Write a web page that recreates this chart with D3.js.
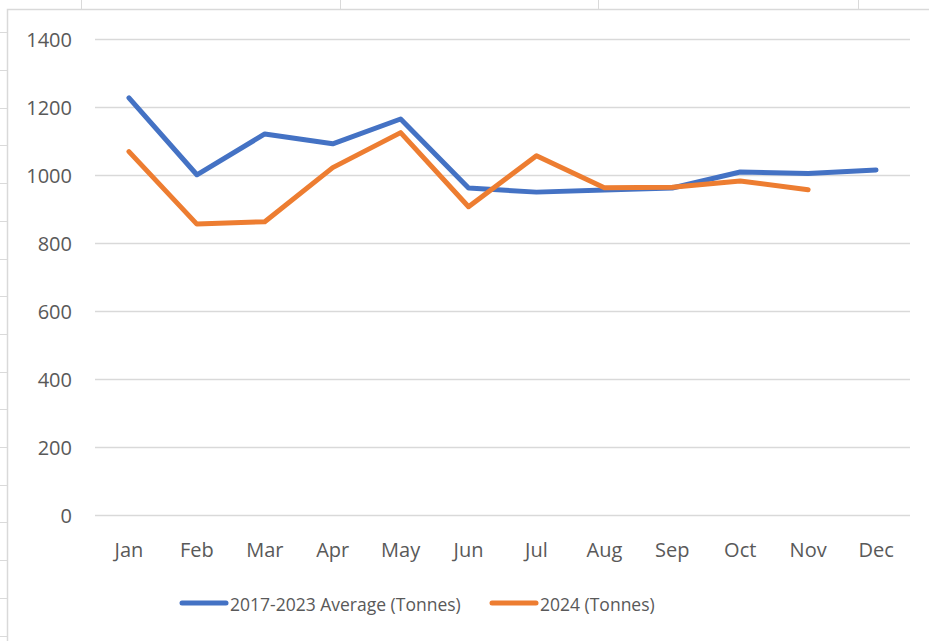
<!DOCTYPE html>
<html>
<head>
<meta charset="utf-8">
<script src="https://cdn.jsdelivr.net/npm/d3@7"></script>
<style>
body { margin: 0; background: #fff; }
svg { display: block; }
text { font-family: 'Open Sans', 'Noto Sans', sans-serif; fill: #595959; }
</style>
</head>
<body>
<svg id="chart" width="929" height="641"></svg>
<script>
// values
var months = ['Jan', 'Feb', 'Mar', 'Apr', 'May', 'Jun', 'Jul', 'Aug', 'Sep', 'Oct', 'Nov', 'Dec'];
var avgTonnes = [1228, 1002, 1122, 1093, 1166, 963, 951, 957, 963, 1010, 1006, 1016];
var tonnes2024 = [1070, 857, 864, 1023, 1126, 908, 1058, 964, 965, 984, 958];
var yTicks = [0, 200, 400, 600, 800, 1000, 1200, 1400];
var seriesNames = ['2017-2023 Average (Tonnes)', '2024 (Tonnes)'];
var seriesColors = ['#4472C4', '#ED7D31'];

var svg = d3.select('#chart');

// spreadsheet cells peeking out behind the chart object
var sheet = svg.append('g').attr('class', 'sheet');
[81, 340, 598, 858].forEach(function(cx) {
  sheet.append('line').attr('x1', cx + 0.5).attr('x2', cx + 0.5).attr('y1', 0).attr('y2', 9)
    .style('stroke', '#dadada');
});
for (var r = 0; r < 17; r++) {
  var ry = Math.round(32.3 + r * 37.7) + 0.5;
  sheet.append('line').attr('x1', 0).attr('x2', 7).attr('y1', ry).attr('y2', ry)
    .style('stroke', '#dadada');
}

// chart object frame
svg.append('rect')
  .attr('x', 7.5).attr('y', 9.5).attr('width', 940).attr('height', 660)
  .style('fill', '#fff').style('stroke', '#d9d9d9').style('stroke-width', 1.5);

var margin = {top: 39.4, left: 95, right: 910, bottom: 515.6};

var x = d3.scaleBand().domain(months).range([margin.left, margin.right]);
var y = d3.scaleLinear().domain([0, 1400]).range([margin.bottom, margin.top]);

var g = svg.append('g');

// gridlines
g.append('g').attr('class', 'grid')
  .selectAll('line')
  .data(yTicks)
  .enter()
  .append('line')
  .attr('x1', margin.left).attr('x2', margin.right)
  .attr('y1', function(d) { return y(d); })
  .attr('y2', function(d) { return y(d); })
  .style('stroke', '#d9d9d9')
  .style('stroke-width', 1.5);

// y labels
var yAxis = g.append('g')
  .attr('transform', 'translate(' + (margin.left - 23) + ',0)')
  .call(d3.axisLeft(y).tickValues(yTicks).tickSize(0).tickPadding(0).tickFormat(d3.format('d')));
yAxis.select('.domain').remove();
yAxis.selectAll('text')
  .style('font-size', '20px')
  .attr('fill', '#595959')
  .attr('dy', '0.36em');

// x labels
var xAxis = g.append('g')
  .attr('transform', 'translate(0,' + margin.bottom + ')')
  .call(d3.axisBottom(x).tickSize(0).tickPadding(0));
xAxis.select('.domain').remove();
xAxis.selectAll('text')
  .style('font-size', '20px')
  .attr('fill', '#595959')
  .attr('y', 41)
  .attr('dy', 0);

var line = d3.line()
  .x(function(d, i) { return x(months[i]) + x.bandwidth() / 2; })
  .y(function(d) { return y(d); });

[avgTonnes, tonnes2024].forEach(function(vals, i) {
  g.append('path')
    .attr('d', line(vals))
    .style('fill', 'none')
    .style('stroke', seriesColors[i])
    .style('stroke-width', 5)
    .style('stroke-linecap', 'round')
    .style('stroke-linejoin', 'round');
});

// legend
var legendX = [182, 492];
var legend = svg.append('g').attr('class', 'legend');
seriesNames.forEach(function(name, i) {
  legend.append('line')
    .attr('x1', legendX[i]).attr('x2', legendX[i] + 44)
    .attr('y1', 603).attr('y2', 603)
    .style('stroke', seriesColors[i])
    .style('stroke-width', 5)
    .style('stroke-linecap', 'round');
  legend.append('text')
    .attr('x', legendX[i] + 48)
    .attr('y', 611)
    .style('font-size', '17.5px')
    .text(name);
});
</script>
</body>
</html>
